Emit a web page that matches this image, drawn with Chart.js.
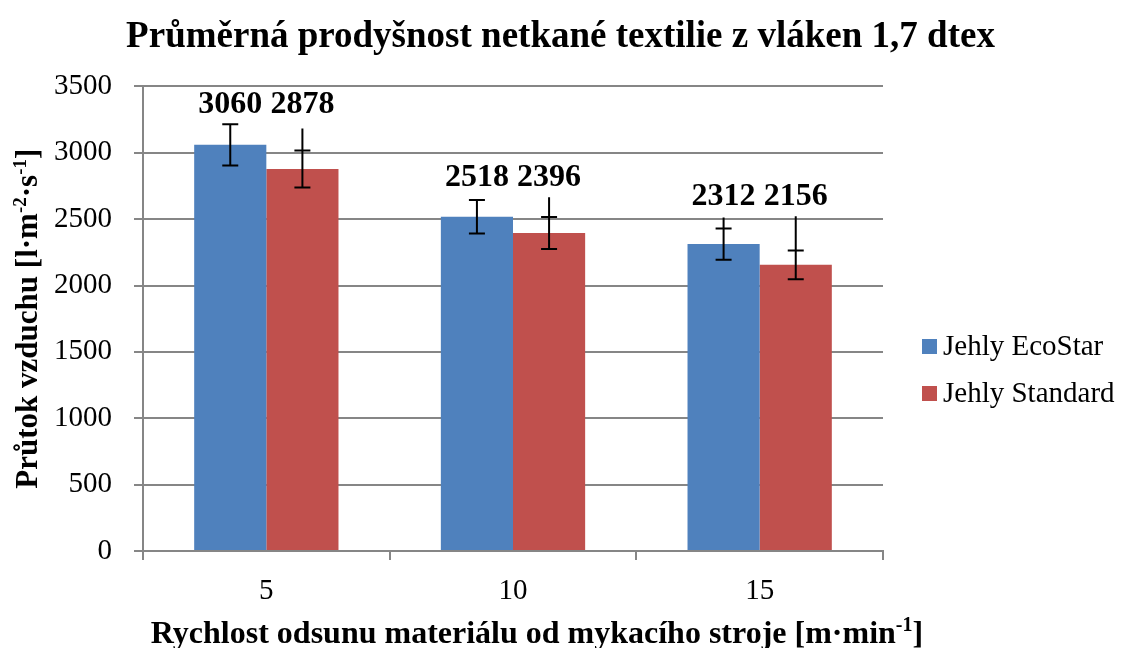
<!DOCTYPE html>
<html>
<head>
<meta charset="utf-8">
<script src="https://cdn.jsdelivr.net/npm/chart.js@4.4.1/dist/chart.umd.min.js"></script>
<style>
  html, body { margin: 0; padding: 0; background: #fff; }
  #wrap { width: 1121px; height: 648px; position: relative; }
</style>
</head>
<body>
<div id="wrap"><canvas id="prodysnostChart"></canvas></div>
<script>
// values
const categories = ['5', '10', '15'];
const seriesNames = ['Jehly EcoStar', 'Jehly Standard'];
const ecoStar = [3060, 2518, 2312];
const standard = [2878, 2396, 2156];
// error bar half-width (caps) and where the upper whisker line ends
const ecoStarErr = [155, 127, 117];
const standardErr = [140, 120, 108];
const ecoStarLineTop = [3215, 2645, 2513];
const standardLineTop = [3183, 2664, 2521];
const yTicks = [0, 500, 1000, 1500, 2000, 2500, 3000, 3500];

const serif = '"Liberation Serif", "Times New Roman", serif';
const errs = [ecoStarErr, standardErr];
const lineTops = [ecoStarLineTop, standardLineTop];

// axis titles with real superscripts: [text, isSup]
const xTitleRuns = [['Rychlost odsunu materiálu od mykacího stroje [m·min', false], ['-1', true], [']', false]];
const yTitleRuns = [['Průtok vzduchu [l·m', false], ['-2', true], ['·s', false], ['-1', true], [']', false]];

function drawRuns(ctx, runs, size, cx, cy) {
    const big = 'bold ' + size + 'px ' + serif;
    const small = 'bold ' + Math.round(size * 0.62) + 'px ' + serif;
    let total = 0;
    runs.forEach(r => { ctx.font = r[1] ? small : big; total += ctx.measureText(r[0]).width; });
    let x = cx - total / 2;
    ctx.textBaseline = 'alphabetic';
    ctx.textAlign = 'left';
    runs.forEach(r => {
        ctx.font = r[1] ? small : big;
        ctx.fillText(r[0], x, cy + size * 0.33 - (r[1] ? size * 0.36 : 0));
        x += ctx.measureText(r[0]).width;
    });
}

// whiskers + value labels on top of the bars
const errorBarPlugin = {
    id: 'errorBars',
    afterDatasetsDraw(chart) {
        const ctx = chart.ctx;
        const y = chart.scales.y;
        ctx.save();
        ctx.strokeStyle = '#000';
        ctx.lineWidth = 2;
        chart.data.datasets.forEach((ds, di) => {
            const meta = chart.getDatasetMeta(di);
            meta.data.forEach((bar, i) => {
                const v = ds.data[i];
                const yHi = y.getPixelForValue(v + errs[di][i]);
                const yLo = y.getPixelForValue(v - errs[di][i]);
                const yTop = y.getPixelForValue(lineTops[di][i]);
                ctx.beginPath();
                ctx.moveTo(bar.x, yTop);
                ctx.lineTo(bar.x, yLo);
                ctx.moveTo(bar.x - 8, yHi);
                ctx.lineTo(bar.x + 8, yHi);
                ctx.moveTo(bar.x - 8, yLo);
                ctx.lineTo(bar.x + 8, yLo);
                ctx.stroke();
            });
        });
        // labels sit just above the highest whisker of each group
        ctx.fillStyle = '#000';
        ctx.font = 'bold 32px ' + serif;
        ctx.textAlign = 'center';
        ctx.textBaseline = 'alphabetic';
        categories.forEach((c, i) => {
            const top = Math.max(ecoStarLineTop[i], standardLineTop[i]);
            const base = y.getPixelForValue(top) - 11;
            chart.data.datasets.forEach((ds, di) => {
                const bar = chart.getDatasetMeta(di).data[i];
                ctx.fillText(String(ds.data[i]), bar.x, base);
            });
        });
        ctx.restore();
    }
};

// legend on the right and the two axis titles
const sideLegendPlugin = {
    id: 'sideLegend',
    afterDraw(chart) {
        const ctx = chart.ctx;
        const area = chart.chartArea;
        const x0 = area.right + 39;
        const rows = [346, 393];
        ctx.save();
        ctx.font = '29px ' + serif;
        ctx.textBaseline = 'middle';
        ctx.textAlign = 'left';
        chart.data.datasets.forEach((ds, di) => {
            ctx.fillStyle = ds.backgroundColor;
            ctx.fillRect(x0, rows[di] - 7, 15, 15);
            ctx.fillStyle = '#000';
            ctx.fillText(ds.label, x0 + 21, rows[di] + 1);
        });

        ctx.fillStyle = '#000';
        drawRuns(ctx, xTitleRuns, 32, 537, 632);
        ctx.translate(27, (area.top + area.bottom) / 2);
        ctx.rotate(-Math.PI / 2);
        drawRuns(ctx, yTitleRuns, 31, 0, 0);
        ctx.restore();
    }
};

const ctx = document.getElementById('prodysnostChart').getContext('2d');

new Chart(ctx, {
    type: 'bar',
    data: {
        labels: categories,
        datasets: [{
            label: seriesNames[0],
            data: ecoStar,
            backgroundColor: '#4F81BD',
            borderWidth: 0
        }, {
            label: seriesNames[1],
            data: standard,
            backgroundColor: '#C0504D',
            borderWidth: 0
        }]
    },
    options: {
        responsive: true,
        maintainAspectRatio: false,
        animation: false,
        categoryPercentage: 0.585,
        barPercentage: 1.0,
        layout: {
            padding: 0
        },
        scales: {
            x: {
                grid: {
                    display: true,
                    offset: true,
                    drawOnChartArea: false,
                    drawTicks: true,
                    tickLength: 9,
                    color: '#868686',
                    lineWidth: 2
                },
                border: { color: '#868686', width: 2 },
                ticks: {
                    color: '#000',
                    font: { family: serif, size: 29 },
                    padding: 14
                },
                afterFit(scale) { scale.height = 97; }
            },
            y: {
                min: 0,
                max: 3500,
                afterBuildTicks(scale) {
                    scale.ticks = yTicks.map(v => ({ value: v }));
                },
                grid: {
                    color: '#868686',
                    lineWidth: 2,
                    tickLength: 9
                },
                border: { color: '#868686', width: 2 },
                ticks: {
                    color: '#000',
                    font: { family: serif, size: 29 },
                    padding: 22,
                    callback: v => String(v)
                },
                afterFit(scale) { scale.width = 143; }
            },
            // empty axis on the right only reserves room for the legend
            legendSpace: {
                position: 'right',
                min: 0,
                max: 1,
                grid: { display: false },
                border: { display: false },
                ticks: { display: false },
                afterFit(scale) { scale.width = 238; }
            }
        },
        plugins: {
            legend: { display: false },
            tooltip: { enabled: false },
            title: {
                display: true,
                text: 'Průměrná prodyšnost netkané textilie z vláken 1,7 dtex',
                color: '#000',
                font: { family: serif, size: 37, weight: 'bold' },
                padding: { top: 15, bottom: 27 }
            }
        }
    },
    plugins: [errorBarPlugin, sideLegendPlugin]
});
</script>
</body>
</html>
